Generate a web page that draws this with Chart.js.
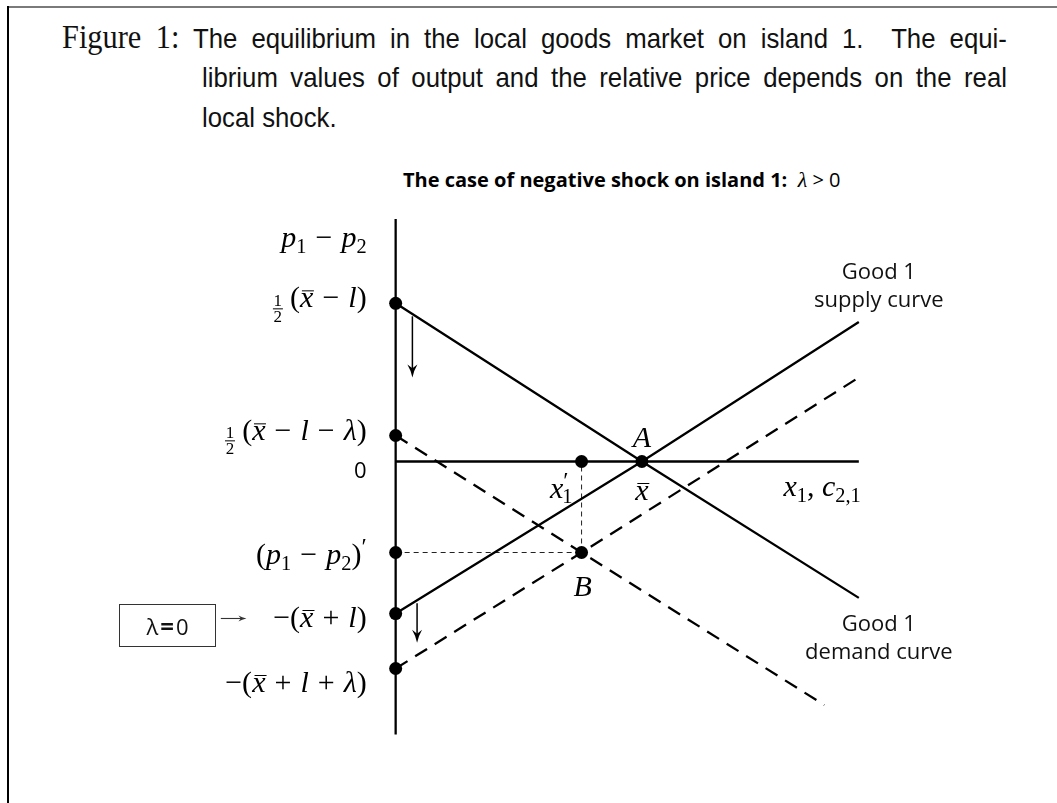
<!DOCTYPE html>
<html>
<head>
<meta charset="utf-8">
<script src="https://cdn.jsdelivr.net/npm/chart.js@4/dist/chart.umd.min.js"></script>
<style>
  html, body { margin: 0; padding: 0; background: #fff; }
  #wrap { position: relative; width: 1057px; height: 803px; overflow: hidden; }
  #frameTop { position: absolute; left: 7px; top: 6px; width: 1050px; height: 2px; background: #7a7a7a; }
  #frameLeft { position: absolute; left: 7px; top: 6px; width: 1.5px; height: 797px; background: #000; }
  canvas { position: absolute; left: 0; top: 0; }
  .cap { position: absolute; font-family: 'Liberation Sans', Arial, sans-serif; font-size: 28px; line-height: 32px; color: #111; transform-origin: 0 50%; transform: scaleX(0.92); }
  .cap.just { text-align: justify; text-align-last: justify; white-space: normal; }
  .cap .fig { font-family: 'Liberation Serif', serif; font-size: 33px; }
  #title { position: absolute; left: 403px; top: 168px; font-family: 'Open Sans', sans-serif; font-weight: 700; font-size: 20px; line-height: 24px; color: #000; white-space: nowrap; }
  #title .lam { font-family: 'Liberation Serif', serif; font-style: italic; font-weight: 400; font-size: 22px; }
  #title .rel { font-weight: 400; }
  .lbl { position: absolute; white-space: nowrap; line-height: 1; color: #000; }
  .m { font-family: 'Liberation Serif', serif; font-size: 30px; }
  .m i { font-style: italic; }
  .m sub { font-size: 0.68em; vertical-align: -0.28em; line-height: 0; }
  .m sup { font-size: 0.8em; vertical-align: 0.4em; line-height: 0; }
  .op { display: inline-block; padding: 0 0.3em; }
  .ov { display: inline-block; position: relative; font-style: italic; }
  .ov::before { content: ''; position: absolute; left: 2px; right: -1px; top: 0.27em; border-top: 1.5px solid #000; }
  .fr { display: inline-flex; flex-direction: column; align-items: center; font-size: 17px; line-height: 15px; vertical-align: 0.1em; margin-right: 7px; font-style: normal; }
  .fr span:first-child { border-bottom: 1.2px solid #000; padding: 0 1px; }
  .s { font-family: 'Open Sans', sans-serif; font-size: 22px; line-height: 28px; text-align: center; color: #111; }
  .zero { font-family: 'Open Sans', sans-serif; font-size: 22px; }
  #lamBox { position: absolute; left: 119px; top: 604px; width: 95px; height: 41px; border: 1.5px solid #333; font-family: 'Open Sans', sans-serif; font-size: 22px; line-height: 41px; text-align: center; color: #111; }
  #lamBox .eq { font-weight: 700; font-size: 24px; padding: 0 2px; }
</style>
</head>
<body>
<div id="wrap">
  <div id="frameTop"></div>
  <div id="frameLeft"></div>

  <div class="cap just" style="left:62px; top:21px; width:1027px;"><span class="fig">Figure 1:</span> The equilibrium in the local goods market on island 1.&nbsp; The equi-</div>
  <div class="cap just" style="left:202px; top:62px; width:875px;">librium values of output and the relative price depends on the real</div>
  <div class="cap" style="left:202px; top:102px;">local shock.</div>

  <div id="title">The case of negative shock on island 1:&nbsp; <span class="lam">λ</span><span class="rel"> &gt; 0</span></div>

  <canvas id="chart" width="1057" height="803"></canvas>

  <!-- price-axis labels -->
  <div class="lbl m" id="lP"><i>p</i><sub>1</sub><span class="op">−</span><i>p</i><sub>2</sub></div>
  <div class="lbl m" id="l0"><span class="fr"><span>1</span><span>2</span></span>(<span class="ov">x</span><span class="op">−</span><i>l</i>)</div>
  <div class="lbl m" id="l1"><span class="fr"><span>1</span><span>2</span></span>(<span class="ov">x</span><span class="op">−</span><i>l</i><span class="op">−</span><i>λ</i>)</div>
  <div class="lbl zero" id="lZ">0</div>
  <div class="lbl m" id="l2">(<i>p</i><sub>1</sub><span class="op">−</span><i>p</i><sub>2</sub>)<sup>′</sup></div>
  <div class="lbl m" id="l3">−(<span class="ov">x</span><span class="op">+</span><i>l</i>)</div>
  <div class="lbl m" id="l4">−(<span class="ov">x</span><span class="op">+</span><i>l</i><span class="op">+</span><i>λ</i>)</div>

  <!-- output-axis labels -->
  <div class="lbl m" id="lA"><i>A</i></div>
  <div class="lbl m" id="lXb"><span class="ov">x</span></div>
  <div class="lbl m" id="lXp"><i>x</i><sup>′</sup><sub style="margin-left:-0.3em">1</sub></div>
  <div class="lbl m" id="lB"><i>B</i></div>
  <div class="lbl m" id="lAx"><i>x</i><sub>1</sub>, <i>c</i><sub>2,1</sub></div>

  <!-- curve names -->
  <div class="lbl s" id="lSup">Good 1<br>supply curve</div>
  <div class="lbl s" id="lDem">Good 1<br>demand curve</div>

  <div id="lamBox">λ<span class="eq">=</span>0</div>
</div>

<script>
// Equilibrium values
const eqOutput = 10;            // x̄
const shockOutput = 7.55;       // x1′
const shockPrice = -3.71;       // (p1 − p2)′

// Curves: output (x) and relative price (p) along each line
const demandX = [0, 10, 18.81];
const demandP = [6.45, 0, -5.56];
const supplyX = [0, 10, 18.81];
const supplyP = [-6.2, 0, 5.69];
const demandShockX = [0, 7.55, 17.41];
const demandShockP = [1.06, -3.71, -9.93];
const supplyShockX = [0, 7.55, 18.69];
const supplyShockP = [-8.44, -3.71, 3.35];

// Axes extent
const priceAxisRange = [-11.13, 9.89];
const outputAxisEnd = 18.81;

// Intercepts marked on the price axis
const interceptP = [6.45, 1.06, -3.71, -6.2, -8.44];

// Shift arrows (downward moves of both curves)
const shiftArrowX = [0.68, 0.87];
const shiftArrowFrom = [5.92, -5.78];
const shiftArrowTo = [3.43, -7.39];

// Pointer from the λ = 0 box to the unshocked intercept
const pointerX = [-7.1, -6.06];
const pointerP = -6.4;

const pts = (xs, ys) => xs.map((x, i) => ({ x, y: ys[i] }));

// Label placements: anchor in data units, offset in px
const labelPlacements = [
  { id: 'lP',  x: 0, y: 9.17, dx: -29, dy: 0, align: 'right' },
  { id: 'l0',  x: 0, y: interceptP[0], dx: -29, dy: 0, align: 'right' },
  { id: 'l1',  x: 0, y: interceptP[1], dx: -29, dy: 0, align: 'right' },
  { id: 'lZ',  x: 0, y: 0, dx: -29, dy: 7, align: 'right' },
  { id: 'l2',  x: 0, y: interceptP[2], dx: -29, dy: 1, align: 'right' },
  { id: 'l3',  x: 0, y: interceptP[3], dx: -29, dy: 3, align: 'right' },
  { id: 'l4',  x: 0, y: interceptP[4], dx: -29, dy: 13, align: 'right' },
  { id: 'lA',  x: eqOutput, y: 0, dx: 0, dy: -25, align: 'center' },
  { id: 'lXb', x: eqOutput, y: 0, dx: 0, dy: 28, align: 'center' },
  { id: 'lXp', x: shockOutput, y: 0, dx: -9, dy: 26, align: 'right' },
  { id: 'lB',  x: shockOutput, y: shockPrice, dx: 1, dy: 33, align: 'center' },
  { id: 'lAx', x: outputAxisEnd, y: 0, dx: 2, dy: 24, align: 'right' },
  { id: 'lSup', x: supplyX[2], y: supplyP[2], dx: 20, dy: -38, align: 'center' },
  { id: 'lDem', x: demandX[2], y: demandP[2], dx: 20, dy: 38, align: 'center' }
];

function arrow(ctx, x0, y0, x1, y1, len, hw) {
  const a = Math.atan2(y1 - y0, x1 - x0);
  ctx.beginPath();
  ctx.moveTo(x0, y0);
  ctx.lineTo(x1 - Math.cos(a) * len * 0.5, y1 - Math.sin(a) * len * 0.5);
  ctx.stroke();
  ctx.save();
  ctx.translate(x1, y1);
  ctx.rotate(a);
  ctx.beginPath();
  ctx.moveTo(0, 0);
  ctx.quadraticCurveTo(-len * 0.55, -hw * 0.3, -len, -hw);
  ctx.lineTo(-len * 0.7, 0);
  ctx.lineTo(-len, hw);
  ctx.quadraticCurveTo(-len * 0.55, hw * 0.3, 0, 0);
  ctx.closePath();
  ctx.fill();
  ctx.restore();
}

const overlay = {
  id: 'overlay',
  afterDraw(chart) {
    const { ctx } = chart;
    const sx = chart.scales.x, sy = chart.scales.y;
    ctx.save();
    ctx.strokeStyle = '#000';
    ctx.fillStyle = '#000';
    ctx.lineWidth = 1.5;
    shiftArrowX.forEach((xv, i) => {
      arrow(ctx, sx.getPixelForValue(xv), sy.getPixelForValue(shiftArrowFrom[i]),
                 sx.getPixelForValue(xv), sy.getPixelForValue(shiftArrowTo[i]), 13, 5);
    });
    ctx.strokeStyle = '#333';
    ctx.fillStyle = '#333';
    ctx.lineWidth = 1.1;
    arrow(ctx, sx.getPixelForValue(pointerX[0]), sy.getPixelForValue(pointerP),
               sx.getPixelForValue(pointerX[1]), sy.getPixelForValue(pointerP), 8, 3);
    ctx.restore();

    labelPlacements.forEach(l => {
      const el = document.getElementById(l.id);
      const px = sx.getPixelForValue(l.x) + l.dx;
      const py = sy.getPixelForValue(l.y) + l.dy;
      el.style.left = px + 'px';
      el.style.top = py + 'px';
      const tx = l.align === 'right' ? '-100%' : (l.align === 'left' ? '0' : '-50%');
      el.style.transform = `translate(${tx}, -50%)`;
    });
  }
};

const solid = { borderColor: '#000', borderWidth: 2.3, pointRadius: 0, showLine: true, tension: 0, fill: false };

new Chart(document.getElementById('chart'), {
  type: 'scatter',
  data: {
    datasets: [
      {
        label: 'marked points',
        data: [
          ...interceptP.map(p => ({ x: 0, y: p })),
          { x: shockOutput, y: 0 },
          { x: eqOutput, y: 0 },
          { x: shockOutput, y: shockPrice }
        ],
        pointRadius: 6.5,
        pointBackgroundColor: '#000',
        pointBorderWidth: 0,
        showLine: false
      },
      { label: 'price axis', data: [{ x: 0, y: priceAxisRange[1] }, { x: 0, y: priceAxisRange[0] }], ...solid },
      { label: 'output axis', data: [{ x: 0, y: 0 }, { x: outputAxisEnd, y: 0 }], ...solid },
      { label: 'demand', data: pts(demandX, demandP), ...solid },
      { label: 'supply', data: pts(supplyX, supplyP), ...solid },
      { label: 'demand, shocked', data: pts(demandShockX, demandShockP), ...solid, borderDash: [14, 9] },
      { label: 'supply, shocked', data: pts(supplyShockX, supplyShockP), ...solid, borderDash: [14, 9] },
      {
        label: 'guides',
        data: [{ x: 0, y: shockPrice }, { x: shockOutput, y: shockPrice }, { x: NaN, y: NaN },
               { x: shockOutput, y: shockPrice }, { x: shockOutput, y: 0 }],
        ...solid, borderWidth: 1, borderColor: '#222', borderDash: [5, 4], spanGaps: false
      }
    ]
  },
  options: {
    responsive: false,
    animation: false,
    layout: { padding: 0 },
    plugins: { legend: { display: false }, tooltip: { enabled: false }, title: { display: false } },
    scales: {
      x: { type: 'linear', display: false, min: -15.804, max: 26.594 },
      y: { type: 'linear', display: false, min: -13.658, max: 18.552 }
    }
  },
  plugins: [overlay]
});
</script>
</body>
</html>
